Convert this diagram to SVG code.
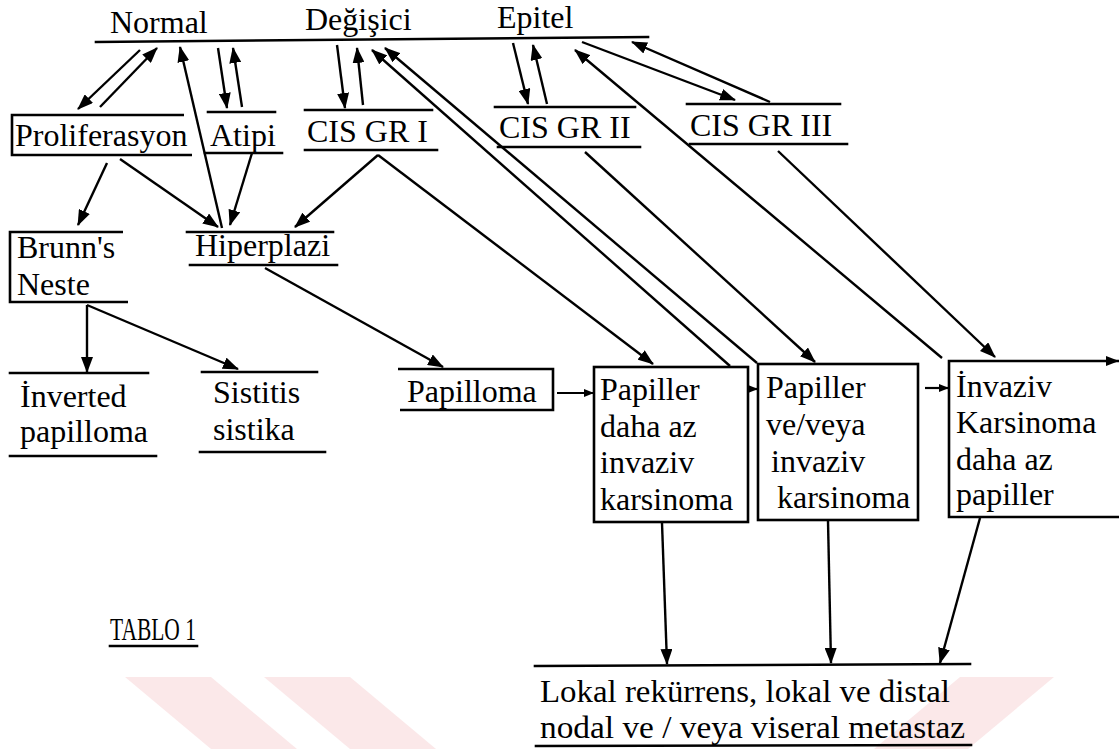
<svg xmlns="http://www.w3.org/2000/svg" width="1119" height="749" viewBox="0 0 1119 749">
<style>
text{font-family:"Liberation Serif","Times New Roman",serif;font-size:32px;fill:#000}
.ln{stroke:#000;stroke-width:2.6;fill:none;stroke-linecap:square}
.bx{stroke:#000;stroke-width:2.6;fill:none}
.ca{stroke:#000;stroke-width:2.4;fill:none;marker-end:url(#ah)}
.cs{stroke:#000;stroke-width:2.2;fill:none;marker-end:url(#as)}
.wm{fill:#f8d9da;opacity:0.6}
</style>
<defs>
<marker id="ah" markerUnits="userSpaceOnUse" markerWidth="16" markerHeight="12" refX="15" refY="6" orient="auto"><path d="M0,0 L16,6 L0,12 z" fill="#000"/></marker>
<marker id="as" markerUnits="userSpaceOnUse" markerWidth="10" markerHeight="8" refX="9" refY="4" orient="auto"><path d="M0,0 L10,4 L0,8 z" fill="#000"/></marker>
</defs>
<rect width="1119" height="749" fill="#fff"/>
<g id="watermark">
<polygon class="wm" points="125,677 211,677 297,749 211,749"/>
<polygon class="wm" points="264,677 350,677 436,749 350,749"/>
<polygon class="wm" points="960,677 1054,677 968,749 874,749"/>
</g>
<g id="normal-degisici-epitel">
<text x="110" y="33">Normal</text>
<text x="305" y="30">Değişici</text>
<text x="497" y="28">Epitel</text>
<line class="ln" x1="96" y1="42" x2="648" y2="37"/>
</g>
<g id="proliferasyon">
<text x="15" y="146">Proliferasyon</text>
<polyline class="bx" points="184,115 12,115 12,155 192,155"/>
</g>
<g id="atipi">
<line class="ln" x1="208" y1="112" x2="275" y2="112"/>
<text x="210" y="146">Atipi</text>
<line class="ln" x1="205" y1="153" x2="282" y2="153"/>
</g>
<g id="cis-gr-1">
<line class="ln" x1="305" y1="110" x2="432" y2="110"/>
<text x="307" y="142">CIS GR I</text>
<line class="ln" x1="305" y1="150" x2="437" y2="150"/>
</g>
<g id="cis-gr-2">
<line class="ln" x1="495" y1="107" x2="635" y2="107"/>
<text x="499" y="138">CIS GR II</text>
<line class="ln" x1="498" y1="147" x2="640" y2="147"/>
</g>
<g id="cis-gr-3">
<line class="ln" x1="687" y1="104" x2="840" y2="104"/>
<text x="690" y="136">CIS GR III</text>
<line class="ln" x1="690" y1="144" x2="847" y2="144"/>
</g>
<g id="brunns-neste">
<text x="17" y="258">Brunn's</text>
<text x="17" y="295">Neste</text>
<polyline class="bx" points="123,232 10,232 10,302 128,302"/>
</g>
<g id="hiperplazi">
<line class="ln" x1="187" y1="232" x2="333" y2="232"/>
<text x="195" y="256">Hiperplazi</text>
<line class="ln" x1="190" y1="265" x2="337" y2="265"/>
</g>
<g id="inverted-papilloma">
<line class="ln" x1="10" y1="373" x2="148" y2="373"/>
<text x="20" y="407">İnverted</text>
<text x="20" y="442">papilloma</text>
<line class="ln" x1="10" y1="456" x2="156" y2="456"/>
</g>
<g id="sistitis-sistika">
<line class="ln" x1="202" y1="372" x2="317" y2="372"/>
<text x="213" y="403">Sistitis</text>
<text x="213" y="440">sistika</text>
<line class="ln" x1="200" y1="452" x2="325" y2="452"/>
</g>
<g id="papilloma">
<text x="407" y="402">Papilloma</text>
<polyline class="bx" points="398,369 553,369 553,410 400,410"/>
</g>
<g id="papiller-daha-az-invaziv">
<rect class="bx" x="594" y="367" width="154" height="155"/>
<text x="600" y="400">Papiller</text>
<text x="600" y="437">daha az</text>
<text x="600" y="473">invaziv</text>
<text x="600" y="510">karsinoma</text>
</g>
<g id="papiller-veveya-invaziv">
<rect class="bx" x="758" y="364" width="160" height="156"/>
<text x="766" y="398">Papiller</text>
<text x="766" y="435">ve/veya</text>
<text x="771" y="472">invaziv</text>
<text x="777" y="508">karsinoma</text>
</g>
<g id="invaziv-karsinoma">
<polyline class="bx" points="1122,361 949,361 949,517 1122,517"/>
<path d="M1106,356 L1119,361 L1106,366 z" fill="#000"/>
<text x="956" y="397">İnvaziv</text>
<text x="956" y="433">Karsinoma</text>
<text x="956" y="470">daha az</text>
<text x="956" y="505">papiller</text>
</g>
<g id="lokal-metastaz">
<line class="ln" x1="535" y1="666" x2="970" y2="664"/>
<text x="540" y="702" font-size="27" textLength="410" lengthAdjust="spacingAndGlyphs">Lokal rekürrens, lokal ve distal</text>
<text x="540" y="738" font-size="27" textLength="425" lengthAdjust="spacingAndGlyphs">nodal ve / veya viseral metastaz</text>
<line class="ln" x1="536" y1="746" x2="971" y2="745"/>
</g>
<g id="tablo-1">
<text x="110" y="640" font-size="30" textLength="86" lengthAdjust="spacingAndGlyphs">TABLO 1</text>
<line class="ln" x1="110" y1="646" x2="197" y2="646"/>
</g>
<g id="connectors">
<line class="ca" x1="140" y1="50" x2="78" y2="109"/>
<line class="ca" x1="100" y1="107" x2="157" y2="48"/>
<line class="ca" x1="222" y1="228" x2="180" y2="47"/>
<line class="ca" x1="218" y1="48" x2="227" y2="108"/>
<line class="ca" x1="242" y1="107" x2="233" y2="48"/>
<line class="ca" x1="107" y1="163" x2="78" y2="225"/>
<line class="ca" x1="120" y1="159" x2="218" y2="227"/>
<line class="ca" x1="252" y1="153" x2="230" y2="225"/>
<line class="ca" x1="378" y1="155" x2="295" y2="227"/>
<line class="ca" x1="378" y1="155" x2="653" y2="364"/>
<line class="ca" x1="337" y1="45" x2="345" y2="108"/>
<line class="ca" x1="363" y1="105" x2="357" y2="48"/>
<line class="ca" x1="730" y1="366" x2="372" y2="50"/>
<line class="ca" x1="757" y1="363" x2="385" y2="48"/>
<line class="ca" x1="513" y1="43" x2="528" y2="104"/>
<line class="ca" x1="547" y1="104" x2="533" y2="45"/>
<line class="ca" x1="942" y1="358" x2="575" y2="50"/>
<line class="ca" x1="582" y1="42" x2="735" y2="100"/>
<line class="ca" x1="770" y1="102" x2="632" y2="42"/>
<line class="ca" x1="585" y1="152" x2="815" y2="362"/>
<line class="ca" x1="778" y1="151" x2="995" y2="357"/>
<line class="ca" x1="87" y1="305" x2="87" y2="372"/>
<line class="ca" x1="87" y1="305" x2="238" y2="369"/>
<line class="ca" x1="265" y1="268" x2="443" y2="367"/>
<line class="cs" x1="557" y1="393" x2="593" y2="393"/>
<line class="cs" x1="749" y1="389" x2="757" y2="389"/>
<line class="cs" x1="925" y1="388" x2="948" y2="388"/>
<line class="ca" x1="662" y1="523" x2="667" y2="664"/>
<line class="ca" x1="828" y1="521" x2="831" y2="663"/>
<line class="ca" x1="980" y1="518" x2="940" y2="663"/>
</g>
</svg>
